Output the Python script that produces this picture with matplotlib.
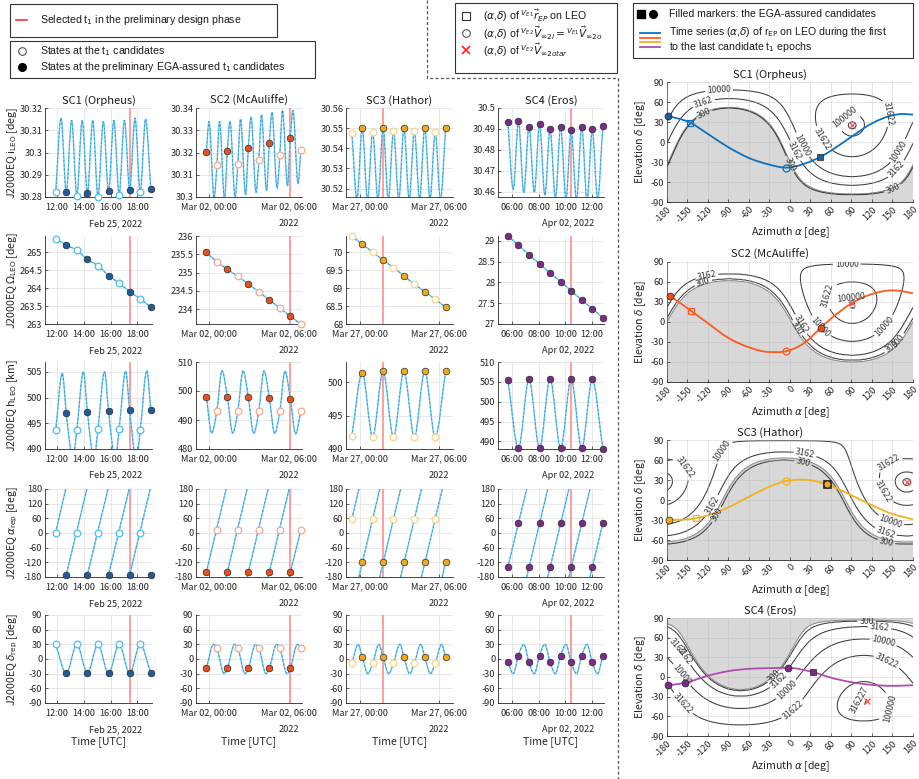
import numpy as np
import matplotlib
matplotlib.use('Agg')
import matplotlib.pyplot as plt
from matplotlib.path import Path
from matplotlib.patches import PathPatch, Rectangle
from matplotlib.lines import Line2D
from matplotlib.ticker import FuncFormatter

plt.rcParams['font.family'] = ['Noto Sans CJK JP', 'DejaVu Sans']
plt.rcParams['mathtext.fontset'] = 'dejavusans'

W, H = 920, 779
TICK_FS = 6.6

# ---------------- left grid data (hours from the panel's reference midnight) ----------------
sc_names = ['SC1 (Orpheus)', 'SC2 (McAuliffe)', 'SC3 (Hathor)', 'SC4 (Eros)']

t_mark = [
    [11.90, 12.69, 13.48, 14.27, 15.06, 15.85, 16.64, 17.43, 18.22, 19.01],
    [-0.20, 0.59, 1.38, 2.17, 2.96, 3.75, 4.54, 5.33, 6.12, 6.91],
    [-0.62, 0.17, 0.96, 1.75, 2.54, 3.33, 4.12, 4.91, 5.70, 6.49],
    [5.70, 6.49, 7.28, 8.07, 8.86, 9.65, 10.44, 11.23, 12.02, 12.81],
]
filled = [
    [0, 1, 0, 1, 0, 1, 0, 1, 0, 1],
    [1, 0, 1, 0, 1, 0, 1, 0, 1, 0],
    [0, 1, 0, 1, 0, 1, 0, 1, 0, 1],
    [1, 1, 1, 1, 1, 1, 1, 1, 1, 1],
]
t_selected = [17.42, 6.13, 1.75, 10.44]

# inclination i_LEO
incl_mark = [
    [30.2821, 30.2821, 30.2805, 30.2818, 30.2800, 30.2826, 30.2811, 30.2833, 30.2821, 30.2836],
    [30.3203, 30.3142, 30.3208, 30.3149, 30.3220, 30.3166, 30.3242, 30.3189, 30.3265, 30.3211],
    [30.5478, 30.5500, 30.5480, 30.5500, 30.5487, 30.5500, 30.5487, 30.5503, 30.5480, 30.5500],
    [30.4931, 30.4939, 30.4911, 30.4926, 30.4898, 30.4911, 30.4894, 30.4910, 30.4898, 30.4913],
]
incl_ext_t = [
    [12.30, 13.09, 13.88, 14.67, 15.46, 16.25, 17.04, 17.83, 18.62],
    [0.00, 0.79, 1.58, 2.37, 3.16, 3.95, 4.74, 5.53, 6.32,
     0.38, 1.17, 1.96, 2.75, 3.54, 4.33, 5.12, 5.91, 6.70],
    [-0.23, 0.57, 1.36, 2.15, 2.94, 3.73, 4.52, 5.31, 6.10],
    [6.10, 6.89, 7.68, 8.47, 9.26, 10.05, 10.84, 11.63, 12.42],
]
incl_ext_v = [
    [30.3155, 30.3145, 30.3145, 30.3145, 30.3140, 30.3145, 30.3145, 30.3155, 30.3150],
    [30.334, 30.334, 30.334, 30.335, 30.336, 30.337, 30.338, 30.339, 30.339,
     30.2995, 30.299, 30.300, 30.301, 30.302, 30.303, 30.304, 30.305, 30.306],
    [30.5146, 30.5145, 30.5145, 30.5145, 30.5145, 30.5145, 30.5145, 30.5145, 30.5145],
    [30.4612, 30.4597, 30.4598, 30.4585, 30.4570, 30.4565, 30.4560, 30.4560, 30.4565],
]

# RAAN Omega_LEO
raan_mark = [
    [265.37, 265.20, 265.05, 264.80, 264.62, 264.35, 264.14, 263.90, 263.70, 263.47],
    [235.55, 235.30, 235.09, 234.90, 234.69, 234.48, 234.25, 234.04, 233.81, 233.60],
    [70.45, 70.22, 70.00, 69.78, 69.57, 69.34, 69.11, 68.90, 68.69, 68.47],
    [29.12, 28.90, 28.67, 28.45, 28.23, 28.02, 27.80, 27.58, 27.37, 27.15],
]

# altitude h_LEO
alt_mark = [
    [493.6, 497.0, 493.7, 497.2, 493.9, 497.4, 493.8, 497.5, 493.6, 497.6],
    [498.0, 493.2, 497.9, 493.1, 497.8, 493.2, 497.6, 493.1, 497.4, 493.0],
    [491.9, 501.4, 491.8, 501.6, 491.8, 501.6, 491.8, 501.6, 491.8, 501.6],
    [505.5, 488.3, 505.6, 488.3, 505.7, 488.3, 505.7, 488.3, 505.6, 488.2],
]
alt_ext_t = [
    [12.39, 13.97, 15.55, 17.13, 18.71, 13.19, 14.77, 16.35, 17.93],
    [0.20, 1.78, 3.36, 4.94, 6.52, 0.98, 2.56, 4.14, 5.72],
    [],
    [],
]
alt_ext_v = [
    [504.7, 505.0, 505.0, 505.1, 505.2, 488.1, 488.0, 488.0, 487.9],
    [485.5, 485.5, 485.4, 485.4, 485.3, 507.0, 507.0, 506.9, 506.8],
    [],
    [],
]

# right ascension alpha_rep (sawtooth, wraps at +-180)
ra_mark = [
    [2, -171, 2, -171, 2, -171, 2, -171, 2, -171],
    [-160, 12, -160, 12, -160, 12, -160, 12, -160, 12],
    [57, -117, 57, -117, 57, -117, 57, -117, 57, -117],
    [-139, 39, -139, 39, -139, 39, -139, 39, -139, 39],
]
ra_wrap = [
    [12.65, 14.23, 15.81, 17.39, 18.97],
    [1.29, 2.87, 4.45, 6.03],
    [-0.08, 1.50, 3.08, 4.66, 6.24],
    [7.11, 8.69, 10.27, 11.85],
]

# declination delta_rep
dec_mark = [
    [30, -29.5, 30, -29.5, 30, -29.5, 30, -29.5, 30, -29.5],
    [-19, 22, -19, 22, -19, 22, -19, 22, -19, 22],
    [-9, 4, -9, 4, -9, 4, -9, 4, -9, 4],
    [-7, 7, -7, 7, -7, 7, -7, 7, -7, 7],
]
dec_ext_t = [
    [],
    [0.34, 1.92, 3.50, 5.08, 6.66, 1.13, 2.71, 4.29, 5.87],
    [-0.14, 1.44, 3.02, 4.60, 6.18, 0.60, 2.18, 3.76, 5.34],
    [6.10, 7.68, 9.26, 10.84, 12.42, 6.89, 8.47, 10.05, 11.63],
]
dec_ext_v = [
    [],
    [30, 30, 30, 30, 30, -30, -30, -30, -30],
    [30, 30, 30, 30, 30, -30, -30, -30, -30],
    [-30, -30, -30, -30, -30, 30, 30, 30, 30],
]

xlims = [(11.1, 19.1), (-0.98, 7.0), (-1.06, 7.05), (4.96, 12.9)]
xticks = [[12, 14, 16, 18], [0, 6], [0, 6], [6, 8, 10, 12]]
xticklabels = [['12:00', '14:00', '16:00', '18:00'],
               ['Mar 02, 00:00', 'Mar 02, 06:00'],
               ['Mar 27, 00:00', 'Mar 27, 06:00'],
               ['06:00', '08:00', '10:00', '12:00']]
date_labels = ['Feb 25, 2022', '2022', '2022', 'Apr 02, 2022']

ylims = [
    [(30.28, 30.32), (30.30, 30.34), (30.5158, 30.56), (30.4576, 30.50)],
    [(263, 265.45), (233.6, 236), (68, 70.45), (27, 29.12)],
    [(490, 506.9), (480, 510), (490, 503), (488.1, 510)],
    [(-180, 180)] * 4,
    [(-90, 90)] * 4,
]
yticks = [
    [[30.28, 30.29, 30.30, 30.31, 30.32], [30.30, 30.31, 30.32, 30.33, 30.34],
     [30.52, 30.53, 30.54, 30.55, 30.56], [30.46, 30.47, 30.48, 30.49, 30.50]],
    [[263, 263.5, 264, 264.5, 265], [234, 234.5, 235, 235.5, 236],
     [68, 68.5, 69, 69.5, 70], [27, 27.5, 28, 28.5, 29]],
    [[490, 495, 500, 505], [480, 490, 500, 510], [490, 495, 500], [490, 495, 500, 505, 510]],
    [[-180, -120, -60, 0, 60, 120, 180]] * 4,
    [[-90, -60, -30, 0, 30, 60, 90]] * 4,
]
row_labels = [r'J2000EQ i$_{\mathrm{LEO}}$ [deg]', r'J2000EQ $\Omega_{\mathrm{LEO}}$ [deg]',
              r'J2000EQ h$_{\mathrm{LEO}}$ [km]', r'J2000EQ $\alpha_{\mathrm{rep}}$ [deg]',
              r'J2000EQ $\delta_{\mathrm{rep}}$ [deg]']

fill_col = ['#1d5c9e', '#e8501e', '#f0a81c', '#7b2a8a']
open_col = ['#4dbeee', '#f5a88c', '#f6d58c', '#b070c0']
line_col = ['#0a72bd', '#ff5a1f', '#f2b21e', '#b04cb0']

# ---------------- right column data (azimuth / elevation, deg) ----------------
levels_val = [300, 3162, 10000, 31622, 100000, 316227]
fld_center = [(91, 25), (91, 29), (171, 27), (108, -37)]
fld_radius = [[104, 90, 77, 47, 16, 5], [86, 79, 58, 31, 8, 3],
              [93, 81, 64, 35, 15, 5], [122, 114, 95, 70, 30, 5]]
gray_radius = [103, 89, 90, 124]
clabel_pos = [
    [(-104, 81), (-126, 58), (-126, 43), (80, 37), (141, 43), (19, -4), (5, -14),
     (-2, -34), (44, 3), (160, -14), (156, -41), (151, -71)],
    [(83, 86), (-122, 70), (-126, 55), (56, 40), (90, 35), (14, -4), (7, -12),
     (44, -7), (139, -7), (160, -29), (158, -41)],
    [(-126, 87), (-158, 46), (-117, -6), (-110, -21), (22, 69), (19, 55), (129, 87),
     (139, 14), (146, -36), (139, -50), (141, -63)],
    [(112, 86), (131, 75), (136, 52), (141, 22), (144, -47), (97, -32), (-162, 50),
     (-157, 32), (-162, 0), (-162, -45), (-26, 5), (-19, -2), (-12, -12), (0, -45)],
]
track_az = [
    [-178, -146, -120, -90, -60, -30, -6, 20, 44, 60, 90, 120, 150, 165, 180],
    [-176, -144.5, -120, -90, -60, -30, -6, 20, 44.7, 60, 90, 120, 150, 165, 180],
    [-177.6, -150, -137, -120, -90, -60, -30, -6.4, 15, 30, 54.4, 90, 120, 150, 180],
    [-178, -154, -120, -90, -60, -30, -3, 33, 60, 90, 120, 150, 180],
]
track_el = [
    [39, 29, 12, -8, -24, -34, -38.5, -33, -22.5, -13, 8, 28, 40, 42, 41],
    [39.4, 16.6, -2, -24, -38, -45, -44, -32, -9.2, 5, 28, 42, 47.5, 46, 43],
    [-29.8, -29, -27.4, -23, -11, 5, 20, 28.4, 30.5, 29.5, 23.4, 7, -8, -21, -29],
    [-12.5, -9, 2, 9, 12.5, 13.5, 14, 7.5, -1, -8, -12, -13.5, -12.5],
]
# markers: (symbol, filled, az, el)
track_marks = [
    [('o', 1, -178, 39), ('s', 0, -146, 29), ('o', 0, -6, -38.5), ('s', 1, 44, -22.5)],
    [('o', 1, -176, 39.4), ('s', 0, -144.5, 16.6), ('o', 0, -6.4, -43.9), ('o', 1, 44.7, -9.2)],
    [('o', 1, -177.6, -29.8), ('s', 0, -137, -27.4), ('o', 0, -6.4, 28.4),
     ('s', 2, 54.4, 23.4), ('o', 1, 54.4, 23.4)],
    [('o', 1, -178, -12.5), ('o', 1, -154, -9), ('o', 1, -3, 14), ('s', 1, 33, 7.5)],
]
target_az = [91, 91, 171, 113]
target_el = [25, 29, 27, -36]

# ---------------- helpers ----------------
fig = plt.figure(figsize=(9.2, 7.79), dpi=100)


def fx(x):
    return x / W


def fy(y):
    return 1 - y / H


def px_axes(x0, y0, x1, y1):
    return fig.add_axes([x0 / W, 1 - y1 / H, (x1 - x0) / W, (y1 - y0) / H])


def fmt_num(v, p=None):
    s = ('%.4f' % v).rstrip('0').rstrip('.')
    return '0' if s == '-0' else s


def smooth(ax, x, y, **kw):
    x = np.asarray(x, float)
    y = np.asarray(y, float)
    o = np.argsort(x)
    x, y = x[o], y[o]
    n = len(x)
    d = np.diff(y) / np.diff(x)
    m = np.empty(n)
    m[0], m[-1] = d[0], d[-1]
    for i in range(1, n - 1):
        if d[i - 1] * d[i] <= 0:
            m[i] = 0.0
        else:
            h0, h1 = x[i] - x[i - 1], x[i + 1] - x[i]
            m[i] = (d[i - 1] * h1 + d[i] * h0) / (h0 + h1)
    verts = [(x[0], y[0])]
    codes = [Path.MOVETO]
    for i in range(n - 1):
        h = x[i + 1] - x[i]
        verts += [(x[i] + h / 3, y[i] + m[i] * h / 3),
                  (x[i + 1] - h / 3, y[i + 1] - m[i + 1] * h / 3),
                  (x[i + 1], y[i + 1])]
        codes += [Path.CURVE4] * 3
    ax.add_patch(PathPatch(Path(verts, codes), fill=False, **kw))


def series_line(ax, x, y):
    smooth(ax, x, y, ec='#7fd0f2', lw=1.1, zorder=2)
    smooth(ax, x, y, ec='#2b95d2', lw=0.6, ls=(0, (3, 2)), zorder=2)


def style_axes(ax):
    for s in ['top', 'right']:
        ax.spines[s].set_visible(False)
    for s in ['left', 'bottom']:
        ax.spines[s].set_color('#262626')
        ax.spines[s].set_linewidth(0.6)
    ax.grid(True, color='#e4e4e4', lw=0.6)
    ax.set_axisbelow(True)
    ax.tick_params(direction='in', length=2.5, width=0.5, labelsize=TICK_FS, pad=2,
                   colors='#262626')
    ax.tick_params(axis='x', pad=4)


col_x = [(45, 152), (196, 302), (346, 453), (498, 604)]
row_y = [(108, 197), (236, 324), (362, 449), (489, 577), (615, 703)]

for r in range(5):
    for c in range(4):
        ax = px_axes(col_x[c][0], row_y[r][0], col_x[c][1], row_y[r][1])
        style_axes(ax)
        tm = t_mark[c]
        if r == 0:
            vm = incl_mark[c]
            series_line(ax, tm + incl_ext_t[c], vm + incl_ext_v[c])
        elif r == 1:
            vm = raan_mark[c]
            series_line(ax, tm, vm)
        elif r == 2:
            vm = alt_mark[c]
            series_line(ax, tm + alt_ext_t[c], vm + alt_ext_v[c])
        elif r == 3:
            vm = ra_mark[c]
            xs, ys = [tm[0]], [vm[0]]
            for w in ra_wrap[c]:
                xs += [w, np.nan, w]
                ys += [180, np.nan, -180]
            xs.append(tm[-1])
            ys.append(vm[-1])
            ax.plot(xs, ys, color='#7fd0f2', lw=1.1, zorder=2)
            ax.plot(xs, ys, color='#2b95d2', lw=0.6, ls=(0, (3, 2)), zorder=2)
        else:
            vm = dec_mark[c]
            series_line(ax, tm + dec_ext_t[c], vm + dec_ext_v[c])

        ax.axvline(t_selected[c], color='#ff9e9e', lw=1.4, zorder=1)

        tf = [t for t, f in zip(tm, filled[c]) if f]
        vf = [v for v, f in zip(vm, filled[c]) if f]
        to = [t for t, f in zip(tm, filled[c]) if not f]
        vo = [v for v, f in zip(vm, filled[c]) if not f]
        ax.plot(to, vo, 'o', ms=4.8, mfc='white', mec=open_col[c], mew=0.9,
                ls='none', clip_on=False, zorder=4)
        ax.plot(tf, vf, 'o', ms=4.8, mfc=fill_col[c], mec='#2a2a2a', mew=0.5,
                ls='none', clip_on=False, zorder=5)

        ax.set_xlim(*xlims[c])
        ax.set_ylim(*ylims[r][c])
        ax.set_xticks(xticks[c])
        ax.set_xticklabels(xticklabels[c])
        ax.set_yticks(yticks[r][c])
        ax.yaxis.set_major_formatter(FuncFormatter(fmt_num))

        if c in (1, 2):
            ax.text(6, -0.30, date_labels[c], transform=ax.get_xaxis_transform(),
                    ha='center', va='center', fontsize=TICK_FS, color='#262626')
        else:
            ax.text(0.91, -0.30, date_labels[c], transform=ax.transAxes,
                    ha='right', va='center', fontsize=TICK_FS, color='#262626')
        if r == 0:
            ax.set_title(sc_names[c], fontsize=8, pad=3, color='#1a1a1a')
        if r == 4:
            ax.text(0.5, -0.44, 'Time [UTC]', transform=ax.transAxes, ha='center',
                    va='center', fontsize=7.6, color='#262626')
    fig.text(fx(13), fy((row_y[r][0] + row_y[r][1]) / 2), row_labels[r], rotation=90,
             ha='center', va='center', fontsize=7.6, color='#262626')

# ---------------- right column ----------------
az = np.arange(-180, 180.5, 1.0)
el = np.arange(-90, 90.5, 1.0)
A, D = np.meshgrid(az, el)
right_y = [(82, 202), (262, 382), (440, 560), (618, 736)]
log_lv = np.log10(levels_val)

for p in range(4):
    ax = px_axes(667, right_y[p][0], 913, right_y[p][1])
    style_axes(ax)
    ax.tick_params(axis='x', pad=2)
    ax.set_axisbelow(False)
    ax.grid(True, color='#b8b8b8', lw=0.5, alpha=0.5)
    ac, dc = np.radians(fld_center[p])
    cosd = (np.sin(np.radians(D)) * np.sin(dc)
            + np.cos(np.radians(D)) * np.cos(dc) * np.cos(np.radians(A) - ac))
    dist = np.degrees(np.arccos(np.clip(cosd, -1, 1)))
    xp = [0] + fld_radius[p][::-1] + [180]
    fp = [6.0] + list(log_lv[::-1]) + [1.0]
    field = np.interp(dist, xp, fp)

    ax.contourf(A, D, dist, levels=[gray_radius[p], 181], colors=['#d8d8d8'], zorder=0)
    ax.contour(A, D, dist, levels=[gray_radius[p]], colors=['#8a8a8a'], linewidths=0.7,
               zorder=1)
    cs = ax.contour(A, D, field, levels=log_lv, colors='#3c3c3c', linewidths=0.75, zorder=2)
    ax.set_xlim(-180, 180)
    ax.set_ylim(-90, 90)
    try:
        ax.clabel(cs, fmt=lambda v: str(int(round(10 ** v))), fontsize=6.3, inline=True,
                  inline_spacing=2, manual=clabel_pos[p])
    except Exception:
        ax.clabel(cs, fmt=lambda v: str(int(round(10 ** v))), fontsize=6.3, inline=True)

    smooth(ax, track_az[p], track_el[p], ec=line_col[p], lw=1.3, zorder=3)
    for sym, f, a, e in track_marks[p]:
        if f == 1:
            ax.plot(a, e, sym, ms=5, mfc=fill_col[p], mec='#222222', mew=0.5, zorder=5,
                    clip_on=False)
        elif f == 2:
            ax.plot(a, e, sym, ms=6, mfc='#222222', mec='#222222', mew=0.5, zorder=4)
        else:
            ax.plot(a, e, sym, ms=5, mfc='none', mec=line_col[p], mew=0.9, zorder=5)
    ax.plot(target_az[p], target_el[p], 'x', ms=4, mec='#ff5050', mew=0.9, zorder=6)

    ax.set_xticks(np.arange(-180, 181, 30))
    ax.set_yticks(np.arange(-90, 91, 30))
    ax.xaxis.set_major_formatter(FuncFormatter(fmt_num))
    ax.yaxis.set_major_formatter(FuncFormatter(fmt_num))
    for lab in ax.get_xticklabels():
        lab.set_rotation(45)
        lab.set_ha('right')
        lab.set_rotation_mode('anchor')
    ax.set_title(sc_names[p], fontsize=8, pad=3, x=0.42, color='#1a1a1a')
    ax.set_xlabel(r'Azimuth $\alpha$ [deg]', fontsize=7.6, labelpad=1, color='#262626')
    ax.set_ylabel(r'Elevation $\delta$ [deg]', fontsize=7.6, labelpad=2, color='#262626')

# ---------------- legends (figure coordinates) ----------------
LF = ['Liberation Sans', 'DejaVu Sans']


def box(x0, y0, x1, y1):
    fig.add_artist(Rectangle((fx(x0), fy(y1)), (x1 - x0) / W, (y1 - y0) / H,
                             transform=fig.transFigure, fill=False, ec='#333333', lw=0.8))


def mark(x, y, **kw):
    fig.add_artist(Line2D([fx(x)], [fy(y)], transform=fig.transFigure, ls='none', **kw))


def hline(x0, x1, y, **kw):
    fig.add_artist(Line2D([fx(x0), fx(x1)], [fy(y), fy(y)], transform=fig.transFigure, **kw))


def label(x, y, s):
    fig.text(fx(x), fy(y), s, ha='left', va='center', fontsize=7.6, family=LF,
             color='#1a1a1a')


box(10, 4, 277, 37)
hline(16, 27, 20, color='#ff3030', lw=1.2)
label(40, 20, r'Selected t$_1$ in the preliminary design phase')

box(10, 41, 315, 78)
mark(22, 51, marker='o', ms=5.5, mfc='white', mec='#555555', mew=0.8)
mark(22, 67, marker='o', ms=5.5, mfc='black', mec='black')
label(40, 51, r'States at the t$_1$ candidates')
label(40, 67, r'States at the preliminary EGA-assured t$_1$ candidates')

box(455, 3, 617, 73)
mark(466, 16, marker='s', ms=5.5, mfc='white', mec='#333333', mew=0.8)
mark(466, 33, marker='o', ms=5.5, mfc='white', mec='#555555', mew=0.8)
mark(466, 50, marker='x', ms=6, mec='#ff2020', mew=1.2)
label(483, 16, r'($\alpha$,$\delta$) of $^{V_{E1}}\vec{r}_{EP}$ on LEO')
label(483, 33, r'($\alpha$,$\delta$) of $^{V_{E2}}\vec{V}_{\infty 2i}={}^{V_{E1}}\vec{V}_{\infty 2o}$')
label(483, 50, r'($\alpha$,$\delta$) of $^{V_{E2}}\vec{V}_{\infty 2otar}$')

box(633, 3, 913, 58)
mark(641, 14, marker='s', ms=5.5, mfc='black', mec='black')
mark(653, 14, marker='o', ms=5.5, mfc='black', mec='black')
label(669, 14, 'Filled markers: the EGA-assured candidates')
for k, col in enumerate(line_col):
    hline(640, 660, 33 + 4.7 * k, color=col, lw=1.3)
label(669, 32, r'Time series ($\alpha$,$\delta$) of r$_{\mathrm{EP}}$ on LEO during the first')
label(669, 47, r'to the last candidate t$_1$ epochs')

fig.add_artist(Line2D([fx(427), fx(427), fx(618), fx(618)], [fy(0), fy(78), fy(78), fy(779)],
                      transform=fig.transFigure, color='#555555', lw=0.9,
                      ls=(0, (2.5, 1.8))))

fig.savefig('out.png', dpi=100, facecolor='white')
